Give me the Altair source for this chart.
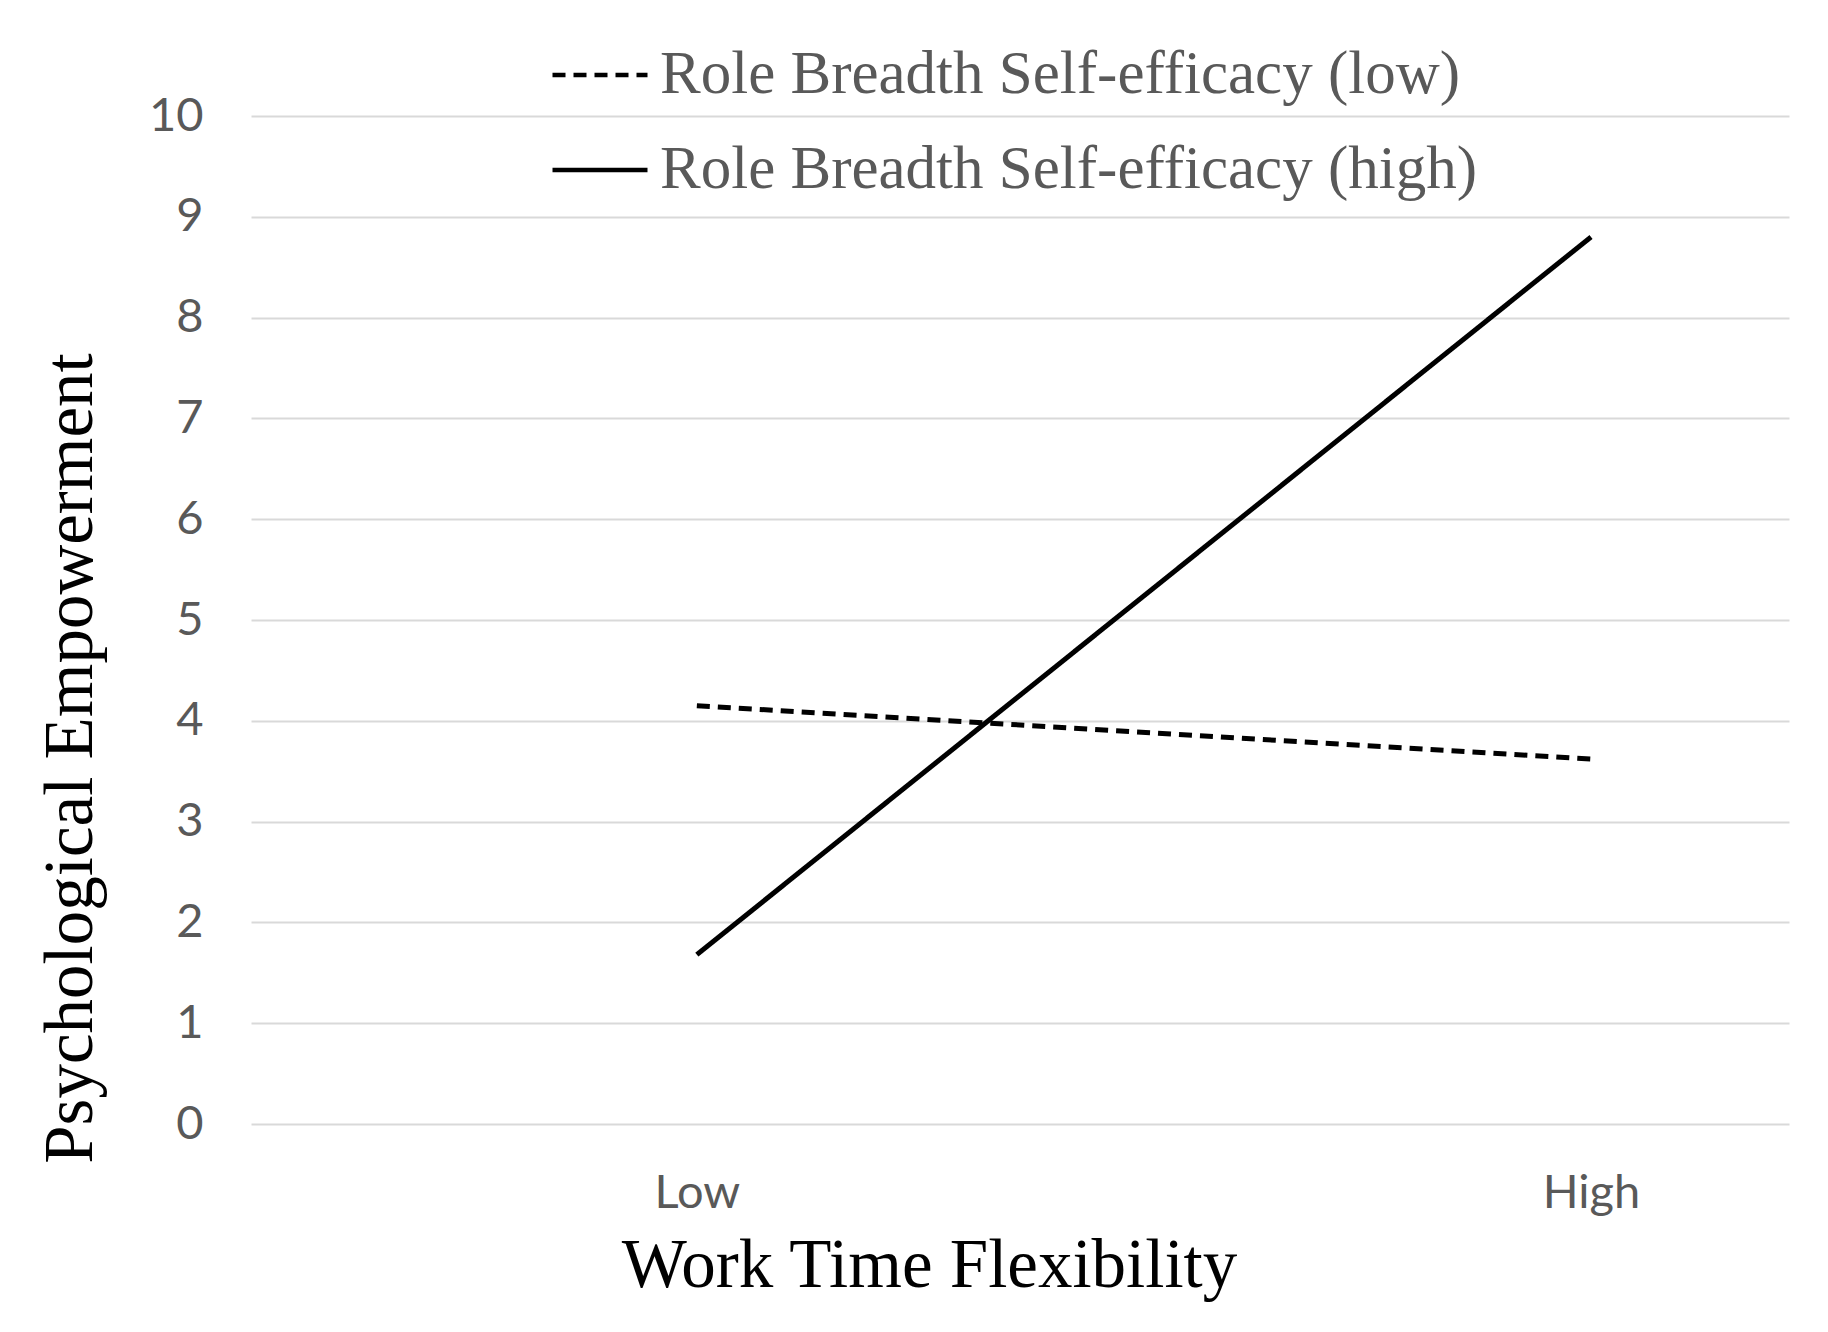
import altair as alt
import pandas as pd

# Data
x_levels = ["Low", "High"]
series_names = ["Role Breadth Self-efficacy (low)", "Role Breadth Self-efficacy (high)"]
rbse_low = [4.15, 3.62]
rbse_high = [1.68, 8.80]
y_ticks = list(range(0, 11))

rows = []
for lvl, v in zip(x_levels, rbse_low):
    rows.append({"flex": lvl, "value": v, "series": series_names[0]})
for lvl, v in zip(x_levels, rbse_high):
    rows.append({"flex": lvl, "value": v, "series": series_names[1]})
df = pd.DataFrame(rows)

SERIF = "Liberation Serif"

chart = alt.Chart(df).mark_line(strokeWidth=5, color="black").encode(
    x=alt.X(
        "flex:N",
        sort=x_levels,
        scale=alt.Scale(type="point", padding=0.36, align=0.6925),
        axis=alt.Axis(
            title="Work Time Flexibility",
            labelAngle=0,
            labelFont="Lato",
            labelFontSize=47,
            labelColor="#595959",
            labelPadding=46,
            ticks=False,
            domain=False,
            grid=False,
            titleFont=SERIF,
            titleFontSize=69,
            titleFontWeight="normal",
            titleColor="black",
            titleX=678,
            titleY=141,
            titleAlign="center",
            titleBaseline="middle",
        ),
    ),
    y=alt.Y(
        "value:Q",
        scale=alt.Scale(domain=[0, 10], nice=False),
        axis=alt.Axis(
            title="Psychological Empowerment",
            values=y_ticks,
            labelFont="Lato",
            labelFontSize=47,
            labelColor="#595959",
            labelPadding=48,
            ticks=False,
            domain=False,
            grid=True,
            gridColor="#d9d9d9",
            gridWidth=2,
            titleFont=SERIF,
            titleFontSize=69,
            titleFontWeight="normal",
            titleColor="black",
            titleAngle=-90,
            titleX=-181,
            titleY=642,
            titleAlign="center",
            titleBaseline="middle",
        ),
    ),
    strokeDash=alt.StrokeDash(
        "series:N",
        scale=alt.Scale(domain=series_names, range=[[13, 8], [1, 0]]),
        legend=alt.Legend(
            title=None,
            orient="none",
            legendX=299,
            legendY=-91,
            symbolType="stroke",
            symbolSize=9025,
            symbolStrokeWidth=4.5,
            symbolStrokeColor="black",
            labelFont=SERIF,
            labelFontSize=61,
            labelColor="#595959",
            labelOffset=10,
            labelLimit=2000,
            rowPadding=15,
            padding=0,
        ),
    ),
).properties(
    width=1538,
    height=1008,
    autosize=alt.AutoSizeParams(type="none"),
    padding={"left": 243, "top": 108, "right": 31, "bottom": 200},
).configure_view(stroke=None)

chart.save("out.html", embed_options={"renderer": "svg", "actions": False})
